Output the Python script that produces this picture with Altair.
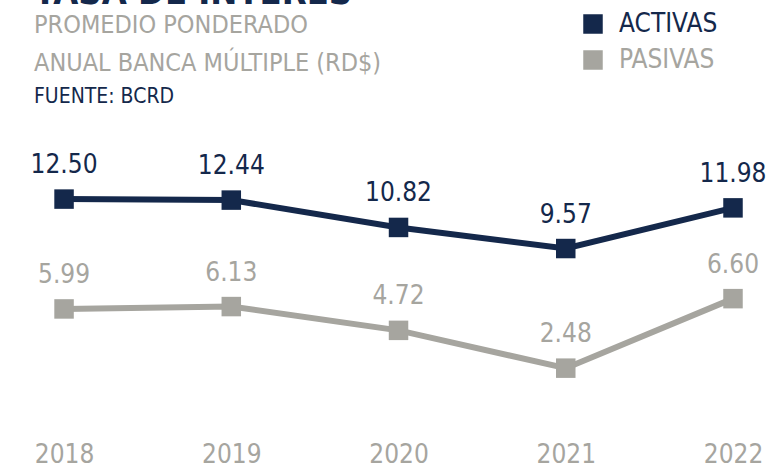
import altair as alt
import pandas as pd

years = [2018, 2019, 2020, 2021, 2022]
activas = [12.50, 12.44, 10.82, 9.57, 11.98]
pasivas = [5.99, 6.13, 4.72, 2.48, 6.60]
series_names = ["ACTIVAS", "PASIVAS"]
colors = ["#14284b", "#a6a59f"]

FONT = "DejaVu Sans Condensed, Roboto"

rows = []
for y, a, p in zip(years, activas, pasivas):
    rows.append({"year": y, "value": a, "serie": "ACTIVAS", "label": f"{a:.2f}"})
    rows.append({"year": y, "value": p, "serie": "PASIVAS", "label": f"{p:.2f}"})
df = pd.DataFrame(rows)

xscale = alt.Scale(domain=[2017.617, 2022.293], nice=False, zero=False)
yscale = alt.Scale(domain=[0, 24.3], nice=False)
cscale = alt.Scale(domain=series_names, range=colors)

x = alt.X("year:Q", scale=xscale,
          axis=alt.Axis(values=years, format="d", domain=False, ticks=False, grid=False,
                        labelFont=FONT, labelFontSize=26, labelColor="#a6a59f",
                        labelPadding=52, labelBaseline="alphabetic", title=None, labelFlush=False))
y = alt.Y("value:Q", scale=yscale, axis=None)
color = alt.Color("serie:N", scale=cscale, legend=None)

base = alt.Chart(df)
lines = base.mark_line(strokeWidth=6).encode(x=x, y=y, color=color, detail="serie:N")
points = base.mark_point(shape="square", size=380, filled=True, opacity=1).encode(x=x, y=y, color=color)
labels = base.mark_text(font=FONT, fontSize=26, baseline="alphabetic", dy=-26).encode(
    x=x, y=y, text="label:N", color=color)

title = alt.Chart(pd.DataFrame({"t": ["TASA DE INTERÉS"]})).mark_text(
    font=FONT, fontSize=36, fontWeight="bold", color="#14284b",
    align="left", baseline="alphabetic").encode(x=alt.value(34), y=alt.value(4), text="t:N")
sub1 = alt.Chart(pd.DataFrame({"t": ["PROMEDIO PONDERADO"]})).mark_text(
    font=FONT, fontSize=25, color="#a6a59f", align="left", baseline="alphabetic").encode(
    x=alt.value(34), y=alt.value(33), text="t:N")
sub2 = alt.Chart(pd.DataFrame({"t": ["ANUAL BANCA MÚLTIPLE (RD$)"]})).mark_text(
    font=FONT, fontSize=25, color="#a6a59f", align="left", baseline="alphabetic").encode(
    x=alt.value(34), y=alt.value(71), text="t:N")
src = alt.Chart(pd.DataFrame({"t": ["FUENTE: BCRD"]})).mark_text(
    font=FONT, fontSize=21, color="#14284b", align="left", baseline="alphabetic").encode(
    x=alt.value(34), y=alt.value(103), text="t:N")

leg = pd.DataFrame({"serie": series_names, "ly": [24, 60]})
leg_sq = alt.Chart(leg).mark_square(size=380, opacity=1, filled=True).encode(
    x=alt.value(593), y=alt.Y("ly:Q", scale=None), color=color)
leg_tx = alt.Chart(leg).mark_text(font=FONT, fontSize=26, align="left", baseline="middle").encode(
    x=alt.value(619), y=alt.Y("ly:Q", scale=None), text="serie:N", color=color)

chart = alt.layer(lines, points, labels, title, sub1, sub2, src, leg_sq, leg_tx).properties(
    width=782, height=410,
    padding={"left": 0, "top": 0, "right": 0, "bottom": 58},
    autosize=alt.AutoSizeParams(type="none"),
).configure_view(stroke=None).resolve_scale(y="independent")

chart.save("out.html", embed_options={"renderer": "svg", "actions": False})
